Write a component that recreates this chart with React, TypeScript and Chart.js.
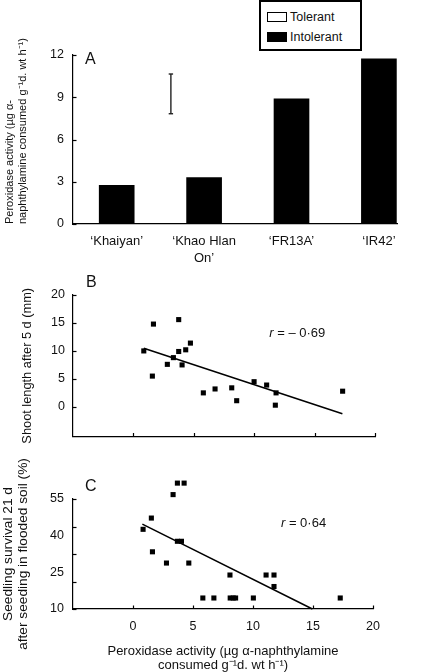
import React, { useEffect, useRef } from 'react';
import { Chart, registerables } from 'chart.js';

Chart.register(...registerables);

const FONT = '"Liberation Sans", Arial, Helvetica, sans-serif';
Chart.defaults.font.family = FONT;
Chart.defaults.color = '#111';

// ---------- Panel A ----------
const cultivars: (string | string[])[] = ['‘Khaiyan’', ['‘Khao Hlan', 'On’'], '‘FR13A’', '‘IR42’'];
const cultivarPos = [0, 1, 2, 3];
const peroxidaseA = [2.75, 3.3, 8.88, 11.72];
const lsdPos = 0.62;
const lsdRange = [7.83, 10.65];
const seriesNames = ['Tolerant', 'Intolerant'];
const seriesFill = ['#ffffff', '#000000'];
const yTicksA = [0, 3, 6, 9, 12];

// ---------- Panel B ----------
const peroxB = [0.86, 1.66, 1.57, 2.81, 3.31, 3.75, 3.75, 4.03, 4.33, 4.72, 5.79, 6.76, 8.14, 8.55, 9.99, 11.03, 11.81, 11.75, 17.32];
const shootB = [10.0, 14.8, 5.5, 7.6, 8.8, 15.6, 9.9, 7.5, 10.2, 11.4, 2.5, 3.2, 3.4, 1.1, 4.5, 3.9, 2.5, 0.3, 2.8];
const fitBx = [0.86, 17.3];
const fitBy = [10.47, -1.24];
const yTicksB = [0, 5, 10, 15, 20];

// ---------- Panel C ----------
const peroxC = [0.84, 1.53, 1.62, 2.79, 3.34, 3.7, 4.26, 3.7, 4.04, 4.65, 5.82, 6.74, 8.08, 8.1, 8.35, 8.55, 10.03, 11.09, 11.75, 11.75, 17.27];
const survivalC = [42.6, 47.2, 33.4, 28.8, 56.8, 61.5, 61.5, 37.7, 37.7, 28.8, 14.5, 14.5, 23.9, 14.5, 14.5, 14.5, 14.5, 23.9, 23.9, 19.2, 14.5];
const fitCx = [0.78, 14.95];
const fitCy = [44.7, 10];
const yLabelsC = [10, 25, 40, 55];
const yTickMarksC = [10, 21.25, 32.5, 43.75, 55];

const xTicksBC = [0, 5, 10, 15, 20];

const AXIS = { display: true, color: '#000', width: 1.2 };
const NOGRID = { display: false, drawTicks: false };

const savedAreas = new WeakMap<any, any>();

const decorPlugin = {
  id: 'decor',
  // Let marks that sit above the top of the axis (as in the original figure) be drawn.
  beforeDatasetsDraw(chart: any, _args: any, opts: any) {
    if (opts.overflowTop) {
      const ca = chart.chartArea;
      savedAreas.set(chart, ca);
      chart.chartArea = { ...ca, top: ca.top - opts.overflowTop, height: ca.height + opts.overflowTop };
    }
  },
  afterDatasetsDraw(chart: any) {
    const ca = savedAreas.get(chart);
    if (ca) {
      chart.chartArea = ca;
      savedAreas.delete(chart);
    }
  },
  afterDraw(chart: any, _args: any, opts: any) {
    const { ctx, chartArea: ca, scales } = chart;
    ctx.save();
    ctx.strokeStyle = '#000';
    ctx.lineWidth = 1.2;
    const len = 3.5;
    if (opts.yTicks) {
      for (const v of opts.yTicks) {
        const p = Math.round(scales.y.getPixelForValue(v)) + 0.5;
        ctx.beginPath();
        ctx.moveTo(ca.left, p);
        ctx.lineTo(ca.left + len, p);
        ctx.stroke();
      }
    }
    if (opts.xTicks) {
      for (const v of opts.xTicks) {
        const p = Math.round(scales.x.getPixelForValue(v)) + 0.5;
        ctx.beginPath();
        ctx.moveTo(p, ca.bottom);
        ctx.lineTo(p, ca.bottom - len);
        ctx.stroke();
      }
    }
    ctx.fillStyle = '#111';
    ctx.textAlign = 'left';
    ctx.textBaseline = 'middle';
    if (opts.panel) {
      ctx.font = `16px ${FONT}`;
      ctx.fillText(opts.panel.text, ca.left + opts.panel.dx, ca.top + opts.panel.dy);
    }
    if (opts.note) {
      const x = scales.x.getPixelForValue(opts.note.x);
      const y = scales.y.getPixelForValue(opts.note.y);
      ctx.font = `italic 13px ${FONT}`;
      ctx.fillText('r', x, y);
      const w = ctx.measureText('r').width;
      ctx.font = `13px ${FONT}`;
      ctx.fillText(opts.note.text, x + w, y);
    }
    ctx.restore();
  },
};

function configA(): any {
  return {
    type: 'bar',
    data: {
      datasets: [
        { type: 'bar', label: seriesNames[0], data: [], backgroundColor: seriesFill[0], borderColor: '#000', borderWidth: 1, barThickness: 35, grouped: false },
        {
          type: 'bar',
          label: seriesNames[1],
          data: cultivarPos.map((x, i) => ({ x, y: peroxidaseA[i] })),
          backgroundColor: seriesFill[1],
          borderWidth: 0,
          barThickness: 35,
          grouped: false,
        },
        {
          type: 'line',
          label: 'LSD',
          data: lsdRange.map((y) => ({ x: lsdPos, y })),
          borderColor: '#222',
          borderWidth: 1.4,
          pointStyle: 'line',
          pointRadius: 2.2,
          pointBorderWidth: 1.4,
          pointBorderColor: '#222',
          fill: false,
        },
      ],
    },
    options: {
      responsive: false,
      animation: false,
      devicePixelRatio: 1,
      events: [],
      layout: { padding: { top: 55, right: 25, left: 0, bottom: 0 } },
      plugins: {
        legend: { display: false },
        tooltip: { enabled: false },
        decor: { yTicks: yTicksA, panel: { text: 'A', dx: 12, dy: 5 } },
      },
      scales: {
        x: {
          type: 'linear',
          min: -0.5,
          max: 3.207,
          offset: false,
          afterBuildTicks: (s: any) => { s.ticks = cultivarPos.map((v) => ({ value: v })); },
          afterFit: (s: any) => { s.height = 46; },
          ticks: { callback: (v: any) => cultivars[v], font: { size: 13, lineHeight: 1.3 }, padding: 9, maxRotation: 0, autoSkip: false, color: '#111' },
          grid: NOGRID,
          border: AXIS,
        },
        y: {
          type: 'linear',
          min: 0,
          max: 12,
          afterBuildTicks: (s: any) => { s.ticks = yTicksA.map((v) => ({ value: v })); },
          afterFit: (s: any) => { s.width = 73; },
          ticks: { font: { size: 12.5 }, padding: 9, color: '#111' },
          grid: NOGRID,
          border: AXIS,
          title: {
            display: true,
            text: ['Peroxidase activity (µg α-', 'naphthylamine consumed g⁻¹d. wt h⁻¹)'],
            align: 'start',
            color: '#111',
            font: { size: 11, lineHeight: '13px' },
            padding: { top: 3.5, bottom: 0 },
          },
        },
      },
    },
    plugins: [decorPlugin],
  };
}

function configB(): any {
  return {
    type: 'scatter',
    data: {
      datasets: [
        {
          label: 'Shoot length',
          data: peroxB.map((x, i) => ({ x, y: shootB[i] })),
          pointStyle: 'rect',
          pointRadius: 3.6,
          pointBorderWidth: 0,
          backgroundColor: '#000',
          clip: false,
        },
        {
          type: 'line',
          label: 'Fit',
          data: fitBx.map((x, i) => ({ x, y: fitBy[i] })),
          borderColor: '#000',
          borderWidth: 1.5,
          pointRadius: 0,
          fill: false,
          clip: false,
        },
      ],
    },
    options: {
      responsive: false,
      animation: false,
      devicePixelRatio: 1,
      events: [],
      layout: { padding: { top: 23, right: 47, left: 0, bottom: 0 } },
      plugins: {
        legend: { display: false },
        tooltip: { enabled: false },
        decor: { yTicks: yTicksB, xTicks: xTicksBC, panel: { text: 'B', dx: 13, dy: -12 }, note: { x: 11.25, y: 13.08, text: ' = – 0·69' } },
      },
      scales: {
        x: {
          type: 'linear',
          min: -5,
          max: 20,
          afterFit: (s: any) => { s.height = 14; },
          ticks: { display: false },
          grid: NOGRID,
          border: AXIS,
        },
        y: {
          type: 'linear',
          min: -5.3,
          max: 20,
          afterBuildTicks: (s: any) => { s.ticks = yTicksB.map((v) => ({ value: v })); },
          afterFit: (s: any) => { s.width = 73; },
          ticks: { font: { size: 12.5 }, padding: 8, color: '#111' },
          grid: NOGRID,
          border: AXIS,
          title: {
            display: true,
            text: 'Shoot length after 5 d (mm)',
            align: 'center',
            color: '#111',
            font: { size: 12.8, lineHeight: '15px' },
            padding: { top: 19.5, bottom: 0 },
          },
        },
      },
    },
    plugins: [decorPlugin],
  };
}

function configC(): any {
  return {
    type: 'scatter',
    data: {
      datasets: [
        {
          label: 'Seedling survival',
          data: peroxC.map((x, i) => ({ x, y: survivalC[i] })),
          pointStyle: 'rect',
          pointRadius: 3.6,
          pointBorderWidth: 0,
          backgroundColor: '#000',
          clip: false,
        },
        {
          type: 'line',
          label: 'Fit',
          data: fitCx.map((x, i) => ({ x, y: fitCy[i] })),
          borderColor: '#000',
          borderWidth: 1.5,
          pointRadius: 0,
          fill: false,
          clip: false,
        },
      ],
    },
    options: {
      responsive: false,
      animation: false,
      devicePixelRatio: 1,
      events: [],
      layout: { padding: { top: 44, right: 49, left: 0, bottom: 0 } },
      plugins: {
        legend: { display: false },
        tooltip: { enabled: false },
        decor: {
          overflowTop: 40,
          yTicks: yTickMarksC,
          xTicks: xTicksBC,
          panel: { text: 'C', dx: 12, dy: -12.5 },
          note: { x: 12.33, y: 45.06, text: ' = 0·64' },
        },
      },
      scales: {
        x: {
          type: 'linear',
          min: -5,
          max: 20,
          afterBuildTicks: (s: any) => { s.ticks = xTicksBC.map((v) => ({ value: v })); },
          afterFit: (s: any) => { s.height = 63; },
          ticks: { font: { size: 12.5 }, padding: 10, color: '#111', maxRotation: 0 },
          grid: NOGRID,
          border: AXIS,
          title: {
            display: true,
            text: ['Peroxidase activity (µg α-naphthylamine', 'consumed g⁻¹d. wt h⁻¹)'],
            color: '#111',
            font: { size: 13, lineHeight: '14px' },
            padding: { top: 0, bottom: 0 },
          },
        },
        y: {
          type: 'linear',
          min: 10,
          max: 55,
          afterBuildTicks: (s: any) => { s.ticks = yLabelsC.map((v) => ({ value: v })); },
          afterFit: (s: any) => { s.width = 73; },
          ticks: { font: { size: 12.5 }, padding: 9, color: '#111' },
          grid: NOGRID,
          border: AXIS,
          title: {
            display: true,
            text: ['Seedling survival 21 d', 'after seeding in flooded soil (%)'],
            align: 'center',
            color: '#111',
            font: { size: 13.7, lineHeight: '15px' },
            padding: { top: 0.5, bottom: 0 },
          },
        },
      },
    },
    plugins: [decorPlugin],
  };
}

function ChartCanvas({ make, top, height }: { make: () => any; top: number; height: number }) {
  const ref = useRef<HTMLCanvasElement>(null);
  useEffect(() => {
    const chart = new Chart(ref.current as HTMLCanvasElement, make());
    return () => chart.destroy();
  }, []);
  return (
    <div style={{ position: 'absolute', left: 0, top, width: 422, height }}>
      <canvas ref={ref} width={422} height={height} style={{ display: 'block', width: 422, height }} />
    </div>
  );
}

function Legend() {
  return (
    <div
      style={{
        position: 'absolute',
        left: 259,
        top: 0,
        width: 103,
        height: 51,
        boxSizing: 'border-box',
        border: '2px solid #000',
        background: '#fff',
        fontFamily: FONT,
        fontSize: 12.5,
        color: '#111',
        zIndex: 2,
      }}
    >
      {seriesNames.map((n, i) => (
        <div
          key={n}
          style={{ position: 'absolute', left: 6, top: 9.7 + i * 20, height: 10, display: 'flex', alignItems: 'center', whiteSpace: 'nowrap' }}
        >
          <span style={{ display: 'inline-block', width: 20, height: 10, boxSizing: 'border-box', border: '1px solid #000', background: seriesFill[i] }} />
          <span style={{ marginLeft: 3, lineHeight: '10px' }}>{n}</span>
        </div>
      ))}
    </div>
  );
}

export default function App() {
  return (
    <div style={{ position: 'absolute', left: 0, top: 0, width: 422, height: 672, background: '#fff', overflow: 'hidden' }}>
      <ChartCanvas make={configA} top={0} height={270} />
      <ChartCanvas make={configB} top={272} height={180} />
      <ChartCanvas make={configC} top={455} height={217} />
      <Legend />
    </div>
  );
}
